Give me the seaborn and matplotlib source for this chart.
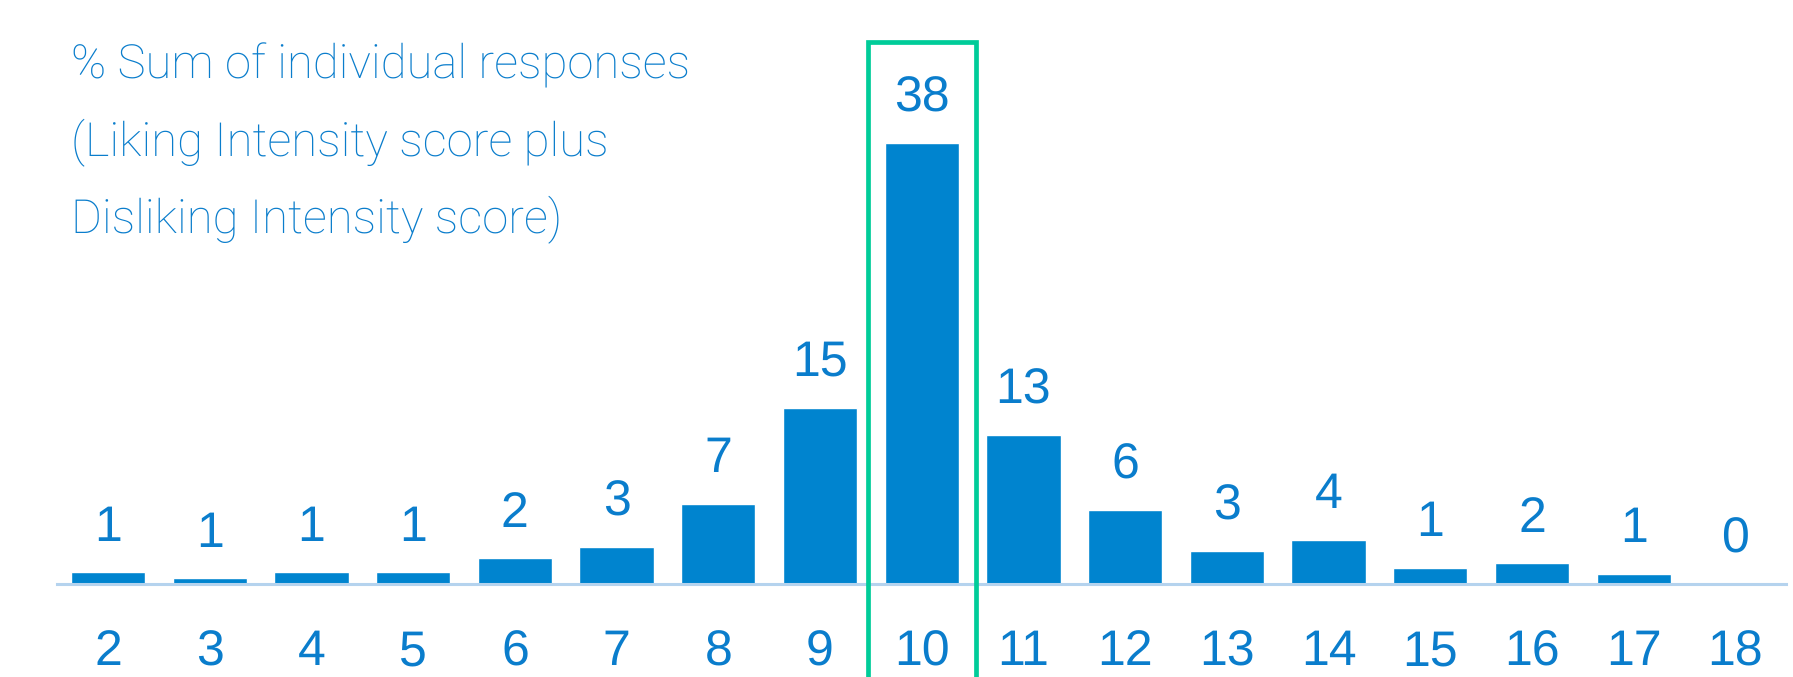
import matplotlib
matplotlib.use("Agg")
import matplotlib.pyplot as plt
import seaborn as sns
import pandas as pd

# Data
categories = ["2", "3", "4", "5", "6", "7", "8", "9", "10", "11", "12", "13", "14", "15", "16", "17", "18"]
values = [1.0, 0.5, 1.0, 1.0, 2.2, 3.2, 6.9, 15.2, 38.0, 12.8, 6.4, 2.8, 3.8, 1.4, 1.8, 0.9, 0.0]
value_labels = ["1", "1", "1", "1", "2", "3", "7", "15", "38", "13", "6", "3", "4", "1", "2", "1", "0"]
highlight = "10"
title_lines = ["% Sum of individual responses",
               "(Liking Intensity score plus",
               "Disliking Intensity score)"]

BAR = "#0084CF"
TEXT = "#0A7DCC"
AXIS = "#B5D3EE"
GREEN = "#00CC99"

sns.set_theme(style="white")
plt.rcParams["font.family"] = ["Liberation Sans", "DejaVu Sans"]
plt.rcParams["text.hinting"] = "no_hinting"

df = pd.DataFrame({"cat": categories, "val": values})

fig = plt.figure(figsize=(17.93, 6.77), dpi=100)
ax = fig.add_axes([0.0319, 0.1374, 0.9643, 0.8626])
sns.barplot(data=df, x="cat", y="val", order=categories, color=BAR,
            saturation=1, width=0.73, ax=ax)

ax.set_ylim(0, 50.3)
ax.set_xlim(-0.5, len(categories) - 0.5)
for s in ["top", "right", "left"]:
    ax.spines[s].set_visible(False)
ax.spines["bottom"].set_color(AXIS)
ax.spines["bottom"].set_linewidth(2.2)
ax.set_yticks([])
ax.set_xlabel("")
ax.set_ylabel("")
ax.tick_params(axis="x", length=0, pad=32.5, labelsize=36, labelcolor=TEXT)

for i, (v, lab) in enumerate(zip(values, value_labels)):
    ax.annotate(lab, (i, v), xytext=(0, 32), textcoords="offset points",
                ha="center", va="center", fontsize=36, color=TEXT)

# highlight box around the "10" column
hi = categories.index(highlight)
half = 0.53
ax.plot([hi - half, hi - half, hi + half, hi + half],
        [-15, 46.7, 46.7, -15], color=GREEN, lw=3.4, clip_on=False,
        solid_joinstyle="miter", zorder=5)

ys = [0.903, 0.789, 0.675]
for line, y in zip(title_lines, ys):
    fig.text(0.0396, y, line, ha="left", va="center", fontsize=34,
             color=TEXT, family=["Roboto", "DejaVu Sans"], fontweight="light")

fig.savefig("out.png", dpi=100)
